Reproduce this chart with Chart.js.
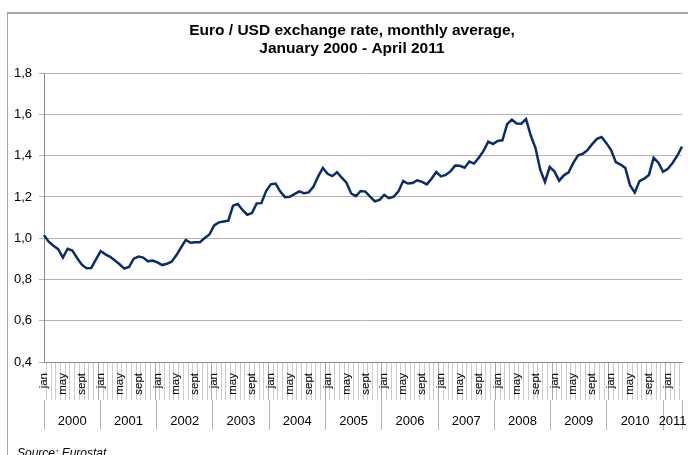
<!DOCTYPE html>
<html>
<head>
<meta charset="utf-8">
<script src="https://cdn.jsdelivr.net/npm/chart.js@4.4.0/dist/chart.umd.min.js"></script>
<style>
html, body { margin: 0; padding: 0; background: #fff; overflow: hidden; }
#wrap { position: relative; width: 688px; height: 455px; overflow: hidden; }
#frame { position: absolute; left: 7px; top: 12px; width: 700px; height: 500px;
  border-top: 2px solid #a6a6a6; border-left: 1px solid #a6a6a6; }
#src { position: absolute; left: 17px; top: 446px; color: #000;
  font: italic 12px 'Liberation Sans', Arial, sans-serif; }
canvas { position: absolute; left: 0; top: 0; }
</style>
</head>
<body>
<div id="wrap">
  <div id="frame"></div>
  <canvas id="c" width="704" height="455"></canvas>
  <div id="src">Source: Eurostat</div>
</div>
<script>
// monthly averages
const r2000 = [1.014, 0.983, 0.964, 0.947, 0.906, 0.949, 0.940, 0.904, 0.872, 0.855, 0.856, 0.897];
const r2001 = [0.938, 0.922, 0.910, 0.892, 0.874, 0.853, 0.861, 0.901, 0.911, 0.906, 0.888, 0.892];
const r2002 = [0.883, 0.870, 0.876, 0.886, 0.917, 0.955, 0.992, 0.978, 0.981, 0.981, 1.001, 1.018];
const r2003 = [1.062, 1.077, 1.081, 1.085, 1.158, 1.166, 1.137, 1.114, 1.122, 1.169, 1.170, 1.229];
const r2004 = [1.261, 1.265, 1.226, 1.199, 1.201, 1.214, 1.227, 1.218, 1.222, 1.249, 1.299, 1.341];
const r2005 = [1.312, 1.301, 1.320, 1.294, 1.269, 1.217, 1.204, 1.229, 1.226, 1.202, 1.179, 1.186];
const r2006 = [1.210, 1.194, 1.202, 1.227, 1.277, 1.265, 1.268, 1.281, 1.273, 1.261, 1.288, 1.321];
const r2007 = [1.300, 1.307, 1.324, 1.352, 1.351, 1.342, 1.372, 1.362, 1.390, 1.423, 1.468, 1.457];
const r2008 = [1.472, 1.475, 1.553, 1.575, 1.556, 1.555, 1.577, 1.498, 1.437, 1.332, 1.273, 1.345];
const r2009 = [1.324, 1.279, 1.305, 1.319, 1.365, 1.402, 1.409, 1.427, 1.456, 1.482, 1.491, 1.461];
const r2010 = [1.427, 1.369, 1.357, 1.341, 1.257, 1.221, 1.277, 1.289, 1.307, 1.390, 1.366, 1.322];
const r2011 = [1.336, 1.365, 1.400, 1.444];

const years = ['2000', '2001', '2002', '2003', '2004', '2005', '2006', '2007', '2008', '2009', '2010', '2011'];
const monthNames = ['jan', '', '', '', 'may', '', '', '', 'sept', '', '', ''];
const yTicks = [0.4, 0.6, 0.8, 1.0, 1.2, 1.4, 1.6, 1.8];

const perYear = [r2000, r2001, r2002, r2003, r2004, r2005, r2006, r2007, r2008, r2009, r2010, r2011];
const rates = [].concat(...perYear);
const monthLabels = [];
perYear.forEach(a => a.forEach((v, i) => monthLabels.push(monthNames[i])));
const nMonths = rates.length;

// year axis: separators at year starts, labels in the middle of each year
const yearBounds = [];
const yearMids = {};
let pos = 0;
perYear.forEach((a, k) => {
  yearBounds.push(pos);
  yearMids[pos + a.length / 2] = years[k];
  pos += a.length;
});
yearBounds.push(pos);
const yearTicks = yearBounds.concat(Object.keys(yearMids).map(Number)).sort((a, b) => a - b);

Chart.defaults.font.family = "'Liberation Sans', Arial, sans-serif";
Chart.defaults.color = '#000';

new Chart(document.getElementById('c'), {
  type: 'line',
  data: {
    labels: monthLabels,
    datasets: [{
      data: rates,
      borderColor: '#0b2b6b',
      borderWidth: 2.5,
      pointRadius: 0,
      tension: 0,
      fill: false
    }]
  },
  options: {
    responsive: false,
    animation: false,
    layout: { padding: { left: 0, right: 0, top: 0, bottom: 25 } },
    plugins: {
      legend: { display: false },
      tooltip: { enabled: false },
      title: {
        display: true,
        text: ['Euro / USD exchange rate, monthly average,', 'January 2000 - April 2011'],
        color: '#000',
        font: { size: 15.5, weight: 'bold' },
        padding: { top: 21, bottom: 15 }
      }
    },
    scales: {
      y: {
        min: 0.4,
        max: 1.8,
        afterFit: s => { s.width = 44; },
        afterBuildTicks: s => { s.ticks = yTicks.map(v => ({ value: v })); },
        ticks: {
          font: { size: 13 },
          padding: 7,
          callback: v => v.toFixed(1).replace('.', ',')
        },
        grid: { color: '#b4b4b4', tickLength: 5 },
        border: { display: true, color: '#8c8c8c', width: 1 }
      },
      // empty right-hand box so the chart stops at the frame's inner edge
      yPad: {
        type: 'linear',
        position: 'right',
        min: 0,
        max: 1,
        afterFit: s => { s.width = 22; },
        ticks: { display: false },
        grid: { display: false },
        border: { display: false }
      },
      x: {
        type: 'category',
        weight: 0,
        afterFit: s => { s.height = 38; },
        ticks: {
          autoSkip: false,
          minRotation: 90,
          maxRotation: 90,
          padding: -27,
          font: { size: 11.5 }
        },
        grid: {
          offset: true,
          drawOnChartArea: false,
          tickLength: 38,
          color: c => (c.index % 12 === 0 ? '#a8a8a8' : '#cccccc')
        },
        border: { display: true, color: '#8c8c8c', width: 1 }
      },
      x2: {
        type: 'linear',
        position: 'bottom',
        weight: 1,
        min: 0,
        max: nMonths,
        afterFit: s => { s.height = 30; },
        afterBuildTicks: s => { s.ticks = yearTicks.map(v => ({ value: v })); },
        ticks: {
          autoSkip: false,
          maxRotation: 0,
          padding: -16,
          font: { size: 13 },
          callback: v => yearMids[v] || ''
        },
        grid: {
          drawOnChartArea: false,
          tickLength: 30,
          color: c => (c.tick && yearMids[c.tick.value] === undefined ? '#b4b4b4' : 'rgba(0,0,0,0)')
        },
        border: { display: false }
      }
    }
  }
});
</script>
</body>
</html>
